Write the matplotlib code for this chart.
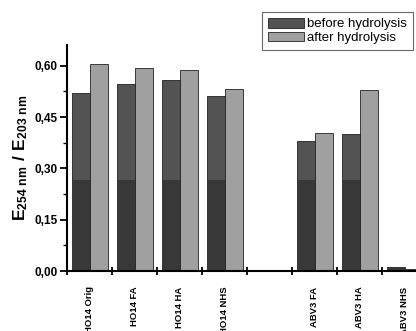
import matplotlib
matplotlib.use("Agg")
import matplotlib.pyplot as plt
import numpy as np

categories = ["HO14 Orig", "HO14 FA", "HO14 HA", "HO14 NHS", "", "ABV3 FA", "ABV3 HA", "ABV3 NHS"]
before = [0.522, 0.546, 0.559, 0.512, np.nan, 0.380, 0.401, 0.012]
after = [0.606, 0.595, 0.588, 0.532, np.nan, 0.405, 0.528, 0.005]
shade_level = 0.265  # darker lower part of the "before" bars in the original scan
yticks = [0.0, 0.15, 0.30, 0.45, 0.60]
ytick_labels = ["0,00", "0,15", "0,30", "0,45", "0,60"]

plt.rcParams['font.family'] = ['Liberation Sans', 'DejaVu Sans']
plt.rcParams['mathtext.fontset'] = 'custom'
plt.rcParams['mathtext.rm'] = 'Liberation Sans'
plt.rcParams['mathtext.bf'] = 'Liberation Sans:bold'

fig = plt.figure(figsize=(4.16, 3.31), dpi=100)
ax = fig.add_axes([67/416, 60/331, 360/416, 226/331])

x = np.arange(len(categories))
w = 0.4
b = np.array(before, dtype=float)
a = np.array(after, dtype=float)
ax.bar(x - w/2, b, w, color="#535353", edgecolor="#222222", linewidth=0.6, label="before hydrolysis")
ax.bar(x - w/2, np.minimum(b, shade_level), w, color="#383838", edgecolor="#222222", linewidth=0.0)
ax.bar(x + w/2, a, w, color="#a0a0a0", edgecolor="#222222", linewidth=0.6, label="after hydrolysis")

ax.set_xlim(-0.5, len(categories) - 0.5)
ax.set_ylim(0, 0.661)
ax.set_yticks(yticks)
ax.set_yticklabels(ytick_labels, fontsize=8.5, fontweight="bold")
ax.set_yticks(np.arange(0.075, 0.66, 0.15), minor=True)
ax.tick_params(axis="y", which="major", direction="out", length=5, width=1.3, pad=2)
ax.tick_params(axis="y", which="minor", direction="out", length=3, width=1.0)

ax.set_xticks(np.arange(len(categories) + 1) - 0.5)
ax.set_xticklabels([])
ax.tick_params(axis="x", which="major", direction="inout", length=6, width=1.3)
for xi, lab in zip(x, categories):
    ax.text(xi, -0.045, lab, rotation=90, ha="center", va="top", fontsize=6.8,
            fontweight="bold", transform=ax.transData, clip_on=False)

for s in ["top", "right"]:
    ax.spines[s].set_visible(False)
for s in ["left", "bottom"]:
    ax.spines[s].set_linewidth(1.5)

ax.set_ylabel(r"$\mathbf{E_{254\ nm}\ /\ E_{203\ nm}}$", fontsize=12.5, labelpad=3)

handles, labels = ax.get_legend_handles_labels()
leg = fig.legend(handles, labels, loc="upper left", bbox_to_anchor=(262/416, 1 - 12/331),
                 fontsize=9.5, frameon=True, fancybox=False, edgecolor="#444444",
                 handlelength=2.7, handleheight=0.75, handletextpad=0.25, labelspacing=0.1,
                 borderpad=0.45, borderaxespad=0)
leg.get_frame().set_linewidth(0.8)

fig.savefig("out.png", dpi=100)
